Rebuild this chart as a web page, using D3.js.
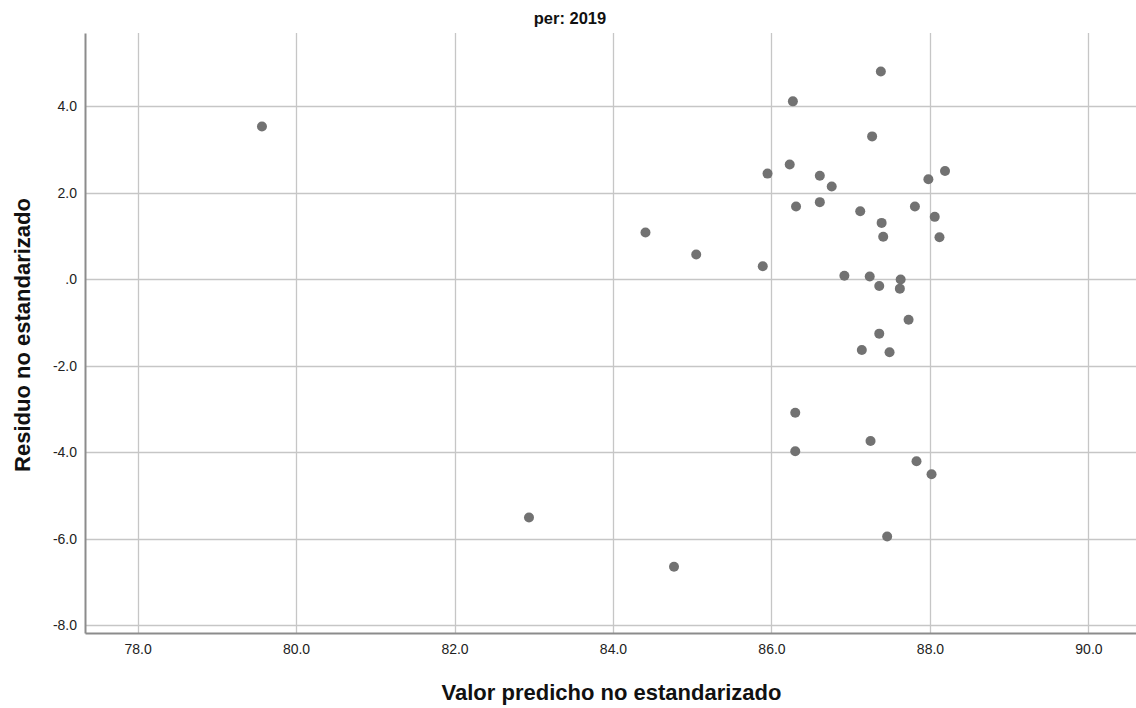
<!DOCTYPE html>
<html>
<head>
<meta charset="utf-8">
<script src="https://cdn.jsdelivr.net/npm/d3@7"></script>
<style>
  html, body { margin: 0; padding: 0; background: #ffffff; }
  svg { display: block; font-family: "Liberation Sans", Arial, sans-serif; }
</style>
</head>
<body>
<svg id="chart" width="1136" height="708"></svg>
<script>
// ---- data ----
const chartTitle = "per: 2019";
const xLabel = "Valor predicho no estandarizado";
const yLabel = "Residuo no estandarizado";
const xTicks = [78, 80, 82, 84, 86, 88, 90];
const yTicks = [-8, -6, -4, -2, 0, 2, 4];
const predicted = [
  79.57, 82.94, 84.77, 84.41, 85.05, 85.89, 85.95, 86.27, 86.23, 86.31,
  86.61, 86.61, 86.76, 87.12, 87.27, 87.38, 87.39, 87.41, 87.81, 87.98,
  88.06, 88.12, 88.19, 86.92, 87.24, 87.36, 87.63, 87.62, 87.73, 87.36,
  87.14, 87.49, 86.30, 86.30, 87.25, 87.83, 88.02, 87.46
];
const residual = [
  3.53, -5.51, -6.65, 1.08, 0.57, 0.30, 2.44, 4.11, 2.65, 1.68,
  2.39, 1.78, 2.14, 1.57, 3.30, 4.80, 1.30, 0.98, 1.68, 2.31,
  1.44, 0.97, 2.50, 0.08, 0.06, -0.16, -0.01, -0.22, -0.94, -1.26,
  -1.64, -1.69, -3.09, -3.98, -3.74, -4.21, -4.51, -5.95
];

(function () {
  // ---- layout ----
  const mLeft = 85, mRight = 1136, mTop = 33, mBottom = 633;

  const svg = d3.select("#chart");

  const x = d3.scaleLinear().domain([77.337, 90.6]).range([mLeft, mRight]);
  const y = d3.scaleLinear().domain([-8.18, 5.69]).range([mBottom, mTop]);

  const fmt = v => (v === 0 ? ".0" : v.toFixed(1));

  // grid lines
  svg.append("g").selectAll("line")
    .data(xTicks).join("line")
    .attr("x1", d => Math.round(x(d)) + 0.5).attr("x2", d => Math.round(x(d)) + 0.5)
    .attr("y1", mTop).attr("y2", mBottom)
    .attr("stroke", "#c6c6c6").attr("stroke-width", 1.3);

  svg.append("g").selectAll("line")
    .data(yTicks).join("line")
    .attr("y1", d => Math.round(y(d)) + 0.5).attr("y2", d => Math.round(y(d)) + 0.5)
    .attr("x1", mLeft).attr("x2", mRight)
    .attr("stroke", "#c6c6c6").attr("stroke-width", 1.3);

  // axes via d3
  const xAxis = d3.axisBottom(x).tickValues(xTicks).tickFormat(fmt).tickSize(0).tickPadding(10);
  const yAxis = d3.axisLeft(y).tickValues(yTicks).tickFormat(fmt).tickSize(0).tickPadding(8);

  const gx = svg.append("g").attr("transform", `translate(0,${mBottom})`).call(xAxis);
  const gy = svg.append("g").attr("transform", `translate(${mLeft},0)`).call(yAxis);

  [gx, gy].forEach(g => {
    g.select(".domain").attr("stroke", "#8c8c8c").attr("stroke-width", 2);
    g.selectAll("text")
      .attr("fill", "#222")
      .style("font-size", "14px")
      .style("font-family", "'Liberation Sans', Arial, sans-serif");
  });
  gx.selectAll("text").attr("dy", "0.8em");

  // points
  svg.append("g").selectAll("circle")
    .data(predicted.map((p, i) => ({ p, r: residual[i] })))
    .join("circle")
    .attr("cx", d => x(d.p))
    .attr("cy", d => y(d.r))
    .attr("r", 5)
    .attr("fill", "#727272");

  // title
  svg.append("text")
    .attr("x", 570).attr("y", 24)
    .attr("text-anchor", "middle")
    .style("font-size", "16.5px").style("font-weight", "bold")
    .attr("fill", "#111")
    .text(chartTitle);

  // axis titles
  svg.append("text")
    .attr("x", (mLeft + mRight) / 2 + 1).attr("y", 700)
    .attr("text-anchor", "middle")
    .style("font-size", "22px").style("font-weight", "bold")
    .attr("fill", "#111")
    .text(xLabel);

  svg.append("text")
    .attr("transform", `translate(30,${(mTop + mBottom) / 2 + 2}) rotate(-90)`)
    .attr("text-anchor", "middle")
    .style("font-size", "22px").style("font-weight", "bold")
    .attr("fill", "#111")
    .text(yLabel);
})();
</script>
</body>
</html>
